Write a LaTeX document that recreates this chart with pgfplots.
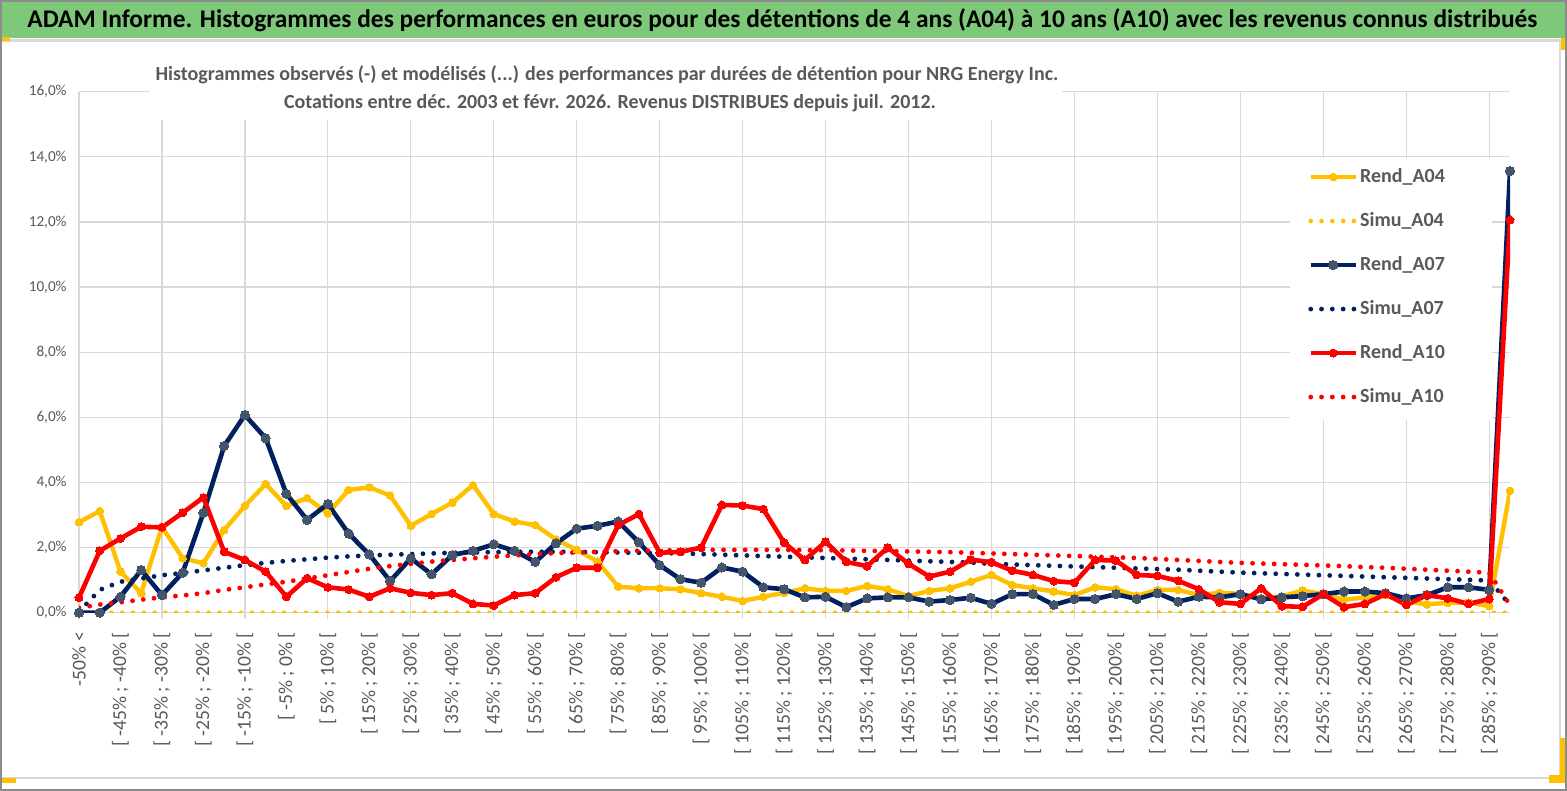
\documentclass[border=0pt]{standalone}
\usepackage{pgfplots}
\usepackage{pgfplotstable}
\pgfplotsset{compat=1.18}
\usepackage{fontspec}
\setmainfont{Carlito}
\definecolor{jaune}{HTML}{FFC000}
\definecolor{marine}{HTML}{002060}
\definecolor{ardoise}{HTML}{44546A}
\definecolor{rouge}{HTML}{FF0000}
\definecolor{grille}{HTML}{D9D9D9}
\definecolor{texte}{HTML}{595959}
\definecolor{bandeau}{RGB}{126,200,122}
\definecolor{cadre}{HTML}{8C8C8C}
\DeclareRobustCommand{\intv}[2]{[ #1\% ; #2\% [}
\DeclareRobustCommand{\prem}{-50\% <}

\pgfplotstableread{
idx A04 S04 A07 S07 A10 S10
0 2.78 0 0.00 0.03 0.46 0.15
1 3.12 0 0.00 0.70 1.90 0.25
2 1.26 0 0.49 0.95 2.28 0.32
3 0.60 0 1.31 1.05 2.64 0.40
4 2.64 0 0.54 1.15 2.62 0.47
5 1.67 0 1.23 1.22 3.07 0.53
6 1.52 0 3.07 1.30 3.54 0.60
7 2.54 0 5.12 1.38 1.87 0.70
8 3.28 0 6.07 1.46 1.62 0.78
9 3.95 0 5.36 1.53 1.26 0.87
10 3.28 0 3.65 1.59 0.49 0.95
11 3.52 0 2.85 1.64 1.06 1.05
12 3.05 0 3.34 1.69 0.78 1.15
13 3.77 0 2.43 1.73 0.71 1.25
14 3.85 0 1.79 1.76 0.49 1.35
15 3.60 0 0.97 1.78 0.75 1.43
16 2.67 0 1.67 1.80 0.61 1.50
17 3.03 0 1.18 1.82 0.54 1.57
18 3.38 0 1.77 1.84 0.60 1.62
19 3.92 0 1.90 1.85 0.27 1.67
20 3.03 0 2.10 1.86 0.22 1.72
21 2.80 0 1.90 1.87 0.54 1.76
22 2.69 0 1.56 1.87 0.60 1.80
23 2.25 0 2.13 1.87 1.09 1.83
24 1.93 0 2.58 1.87 1.38 1.85
25 1.57 0 2.67 1.86 1.38 1.87
26 0.80 0 2.80 1.85 2.69 1.89
27 0.75 0 2.16 1.84 3.03 1.90
28 0.75 0 1.46 1.83 1.84 1.91
29 0.72 0 1.03 1.82 1.87 1.92
30 0.60 0 0.92 1.80 2.00 1.93
31 0.49 0 1.39 1.78 3.31 1.93
32 0.36 0 1.26 1.76 3.29 1.93
33 0.49 0 0.78 1.74 3.18 1.93
34 0.61 0 0.72 1.72 2.15 1.93
35 0.75 0 0.47 1.70 1.62 1.92
36 0.67 0 0.49 1.68 2.18 1.92
37 0.67 0 0.17 1.66 1.56 1.91
38 0.82 0 0.44 1.64 1.43 1.90
39 0.72 0 0.47 1.62 2.00 1.89
40 0.51 0 0.47 1.60 1.50 1.88
41 0.67 0 0.34 1.58 1.11 1.87
42 0.75 0 0.39 1.56 1.26 1.86
43 0.95 0 0.46 1.54 1.63 1.84
44 1.16 0 0.27 1.50 1.55 1.82
45 0.85 0 0.57 1.48 1.29 1.80
46 0.75 0 0.57 1.46 1.16 1.78
47 0.65 0 0.24 1.44 0.97 1.76
48 0.54 0 0.42 1.42 0.92 1.74
49 0.78 0 0.42 1.40 1.62 1.72
50 0.72 0 0.57 1.38 1.60 1.70
51 0.52 0 0.42 1.36 1.16 1.68
52 0.70 0 0.60 1.34 1.13 1.65
53 0.70 0 0.34 1.32 0.98 1.62
54 0.54 0 0.49 1.29 0.72 1.59
55 0.61 0 0.47 1.26 0.32 1.56
56 0.58 0 0.57 1.23 0.27 1.53
57 0.45 0 0.41 1.21 0.75 1.51
58 0.50 0 0.47 1.19 0.20 1.49
59 0.68 0 0.51 1.17 0.18 1.47
60 0.57 0 0.57 1.15 0.57 1.45
61 0.40 0 0.65 1.13 0.17 1.43
62 0.47 0 0.65 1.11 0.27 1.40
63 0.54 0 0.60 1.09 0.57 1.38
64 0.34 0 0.44 1.07 0.24 1.35
65 0.26 0 0.54 1.05 0.54 1.32
66 0.30 0 0.78 1.03 0.44 1.29
67 0.31 0 0.78 1.01 0.27 1.26
68 0.20 0 0.70 0.99 0.42 1.23
69 3.74 0 13.56 0.24 12.06 0.23
}\donnees

\begin{document}
\begin{tikzpicture}
\useasboundingbox (0,0) rectangle (783.5pt,395.5pt);
\fill[white] (0,0) rectangle (783.5pt,395.5pt);
% chart border
\draw[grille, line width=0.8pt] (0.8pt,6.5pt) rectangle (780pt,375pt);
% banner
\fill[bandeau] (0.5pt,376.5pt) rectangle (783pt,394.5pt);
\draw[grille, line width=0.6pt] (0.5pt,375.6pt) -- (783pt,375.6pt);
\node[anchor=west, inner sep=0pt, font=\fontsize{12.7}{15}\selectfont\bfseries] at (13.5pt,385.5pt)
  {ADAM Informe. Histogrammes des performances en euros pour des détentions de 4 ans (A04) à 10 ans (A10) avec les revenus connus distribués};
% yellow accents
\fill[jaune] (0,375pt) rectangle (5pt,377pt);
\fill[jaune] (780.5pt,370.5pt) rectangle (783pt,376.5pt);
\fill[jaune] (0.5pt,4pt) rectangle (8pt,6.5pt);
\fill[jaune] (774.5pt,4pt) rectangle (782.5pt,8pt);
\fill[jaune] (780pt,4pt) rectangle (782.5pt,26.5pt);

\begin{axis}[
  at={(39.5pt,89.15pt)}, anchor=south west,
  scale only axis, width=715.5pt, height=260.5pt,
  xmin=0, xmax=69, ymin=0, ymax=16,
  axis line style={draw=none},
  major tick style={draw=none},
  ytick={0,2,...,16},
  yticklabels={{0,0\%},{2,0\%},{4,0\%},{6,0\%},{8,0\%},{10,0\%},{12,0\%},{14,0\%},{16,0\%}},
  yticklabel style={font=\fontsize{7.6}{9}\selectfont, color=texte, inner sep=0pt},
  yticklabel shift=6pt,
  ymajorgrids,
  grid style={grille, line width=0.6pt},
  xtick={0,2,...,68},
  xticklabels={\prem,\intv{-45}{-40},\intv{-35}{-30},\intv{-25}{-20},\intv{-15}{-10},\intv{-5}{0},\intv{5}{10},\intv{15}{20},\intv{25}{30},\intv{35}{40},\intv{45}{50},\intv{55}{60},\intv{65}{70},\intv{75}{80},\intv{85}{90},\intv{95}{100},\intv{105}{110},\intv{115}{120},\intv{125}{130},\intv{135}{140},\intv{145}{150},\intv{155}{160},\intv{165}{170},\intv{175}{180},\intv{185}{190},\intv{195}{200},\intv{205}{210},\intv{215}{220},\intv{225}{230},\intv{235}{240},\intv{245}{250},\intv{255}{260},\intv{265}{270},\intv{275}{280},\intv{285}{290}},
  xticklabel style={rotate=90, anchor=east, font=\fontsize{9.8}{10}\selectfont, color=texte, inner sep=0pt},
  xticklabel shift=9.5pt,
  extra x ticks={0,4,...,68},
  extra x tick labels={},
  extra x tick style={grid=major, major tick style={draw=grille, line width=0.6pt}, major tick length=3pt, tick align=outside, tick pos=bottom},
  legend cell align=left,
  legend image code/.code={\draw[mark repeat=2,mark phase=2,#1] plot coordinates {(0pt,0pt) (11.25pt,0pt) (22.5pt,0pt)};},
  legend style={at={(rel axis cs:0.8588,0.859)}, anchor=north west, draw=none, fill=none, inner sep=0pt,
    row sep=10.5pt, font=\fontsize{10}{12}\selectfont\bfseries, text=texte,
    nodes={inner sep=1pt, text height=7.5pt, text depth=2pt}},
]
\fill[white] (axis cs:58.4,5.92) rectangle (axis cs:68.13,13.96);
\addplot[jaune, line width=2.2pt, line join=round, mark=*, mark size=1.9pt, mark options={solid, fill=jaune, draw=jaune, line width=0pt}] table[x=idx, y=A04] {\donnees};
\addlegendentry{Rend\_A04}
\addplot[jaune, line width=2.3pt, line cap=round, dash pattern=on 0pt off 5.4pt] table[x=idx, y=S04] {\donnees};
\addlegendentry{Simu\_A04}
\addplot[marine, line width=2.3pt, line join=round, mark=*, mark size=2.3pt, mark options={solid, fill=ardoise, draw=ardoise, line width=0pt}] table[x=idx, y=A07] {\donnees};
\addlegendentry{Rend\_A07}
\addplot[marine, line width=2.4pt, line cap=round, dash pattern=on 0pt off 5.4pt] table[x=idx, y=S07] {\donnees};
\addlegendentry{Simu\_A07}
\addplot[rouge, line width=2.3pt, line join=round, mark=*, mark size=2.0pt, mark options={solid, fill=rouge, draw=rouge, line width=0pt}] table[x=idx, y=A10] {\donnees};
\addlegendentry{Rend\_A10}
\addplot[rouge, line width=2.4pt, line cap=round, dash pattern=on 0pt off 5.4pt] table[x=idx, y=S10] {\donnees};
\addlegendentry{Simu\_A10}
\end{axis}

% chart title
\fill[white] (75pt,335.5pt) rectangle (531pt,368pt);
\node[font=\fontsize{10}{12}\selectfont\bfseries, text=texte, inner sep=0pt] at (303.5pt,358pt)
  {Histogrammes observés (-) et modélisés (...) des performances par durées de détention pour NRG Energy Inc.};
\node[font=\fontsize{10}{12}\selectfont\bfseries, text=texte, inner sep=0pt] at (305pt,344pt)
  {Cotations entre déc. 2003 et févr. 2026. Revenus DISTRIBUES depuis juil. 2012.};
% outer frame
\draw[cadre, line width=0.8pt] (0.4pt,0.4pt) rectangle (783.1pt,395.1pt);
\end{tikzpicture}
\end{document}
